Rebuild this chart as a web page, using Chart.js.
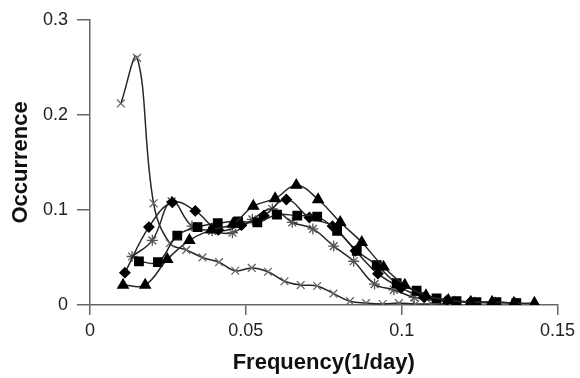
<!DOCTYPE html>
<html>
<head>
<meta charset="utf-8">
<script src="https://cdn.jsdelivr.net/npm/chart.js@4"></script>
<style>
  html, body { margin: 0; padding: 0; background: #fff; }
  #wrap { width: 580px; height: 378px; }
</style>
</head>
<body>
<div id="wrap"><canvas id="freqChart" width="580" height="378"></canvas></div>
<script>
// values (frequency in 1/day, occurrence)
const crossX = [0.0099,0.0151,0.0204,0.0256,0.0309,0.0361,0.0414,0.0466,0.0519,0.0571,0.0624,0.0676,0.0729,0.0781,0.0834,0.0886,0.0939,0.0991,0.1044,0.1096,0.1149];
const crossY = [0.212,0.260,0.107,0.065,0.058,0.050,0.045,0.036,0.039,0.035,0.025,0.021,0.020,0.012,0.004,0.002,0.001,0.002,0.001,0.001,0.001];

const starX = [0.0135,0.0200,0.0262,0.0327,0.0392,0.0457,0.0521,0.0585,0.0649,0.0715,0.0782,0.0846,0.0913,0.0975,0.1040,0.1105,0.1170,0.1235,0.1300,0.1365];
const starY = [0.051,0.068,0.109,0.083,0.078,0.076,0.090,0.101,0.087,0.080,0.062,0.046,0.022,0.016,0.008,0.005,0.004,0.003,0.003,0.002];

const squareX = [0.0157,0.0218,0.0280,0.0345,0.0410,0.0475,0.0537,0.0600,0.0665,0.0729,0.0793,0.0856,0.0920,0.0984,0.1048,0.1112,0.1176,0.1240,0.1304,0.1368];
const squareY = [0.046,0.045,0.073,0.082,0.086,0.088,0.087,0.095,0.094,0.093,0.078,0.057,0.042,0.023,0.015,0.007,0.004,0.003,0.003,0.002];

const diamondX = [0.0112,0.0189,0.0264,0.0338,0.0412,0.0486,0.0558,0.0630,0.0704,0.0778,0.0852,0.0924,0.0998,0.1072,0.1146,0.1220,0.1294];
const diamondY = [0.034,0.082,0.108,0.099,0.079,0.084,0.094,0.111,0.092,0.083,0.057,0.033,0.018,0.008,0.005,0.003,0.002];

const triX = [0.0106,0.0177,0.0248,0.0319,0.0389,0.0458,0.0524,0.0594,0.0662,0.0732,0.0803,0.0872,0.0942,0.1010,0.1078,0.1150,0.1222,0.1290,0.1360,0.1426];
const triY = [0.021,0.021,0.048,0.068,0.079,0.085,0.104,0.112,0.126,0.111,0.087,0.066,0.040,0.021,0.010,0.005,0.003,0.003,0.002,0.002];

const xTicks = [0, 0.05, 0.1, 0.15];
const yTicks = [0, 0.1, 0.2, 0.3];

const pts = (xs, ys) => xs.map((x, i) => ({ x, y: ys[i] }));

function series(xs, ys, style, radius, fill, stroke){
  return {
    data: pts(xs, ys),
    showLine: true,
    tension: 0.4,
    borderColor: '#262626',
    borderWidth: 1.5,
    pointStyle: style,
    pointRadius: radius,
    pointBackgroundColor: fill,
    pointBorderColor: stroke,
    pointBorderWidth: 1.3
  };
}

const tickFont = { family: 'Liberation Sans, Arial, sans-serif', size: 18 };
const titleFont = { family: 'Liberation Sans, Arial, sans-serif', size: 22, weight: 'bold' };

new Chart(document.getElementById('freqChart'), {
  type: 'scatter',
  data: {
    datasets: [
      series(triX, triY, 'triangle', 6, '#000', '#000'),
      series(squareX, squareY, 'rect', 6, '#000', '#000'),
      series(diamondX, diamondY, 'rectRot', 5, '#000', '#000'),
      series(starX, starY, 'star', 5.5, '#555', '#555'),
      series(crossX, crossY, 'crossRot', 5.5, '#666', '#666')
    ]
  },
  options: {
    responsive: false,
    animation: false,
    layout: { padding: { top: 5, right: 3, left: 0, bottom: 0 } },
    plugins: { legend: { display: false }, tooltip: { enabled: false } },
    scales: {
      x: {
        type: 'linear',
        min: 0, max: 0.15,
        afterBuildTicks: s => { s.ticks = xTicks.map(v => ({ value: v })); },
        afterFit: s => { s.height = 73; },
        ticks: { font: tickFont, color: '#222', padding: 5, maxRotation: 0,
                 callback: v => String(+v.toFixed(2)) },
        grid: { drawOnChartArea: false, drawTicks: true, tickLength: 10, color: '#666', lineWidth: 1.5 },
        border: { display: true, color: '#666', width: 1.5 },
        title: { display: true, text: 'Frequency(1/day)', font: titleFont, color: '#111', padding: { top: 0, bottom: 2 } }
      },
      y: {
        type: 'linear',
        min: 0, max: 0.3,
        afterBuildTicks: s => { s.ticks = yTicks.map(v => ({ value: v })); },
        afterFit: s => { s.width = 90; },
        ticks: { font: tickFont, color: '#222', padding: 9,
                 callback: v => String(+v.toFixed(2)) },
        grid: { drawOnChartArea: false, drawTicks: true, tickLength: 13, color: '#666', lineWidth: 1.5 },
        border: { display: true, color: '#666', width: 1.5 },
        title: { display: true, text: 'Occurrence', font: titleFont, color: '#111', padding: { top: 8, bottom: 0 } }
      }
    }
  }
});
</script>
</body>
</html>
